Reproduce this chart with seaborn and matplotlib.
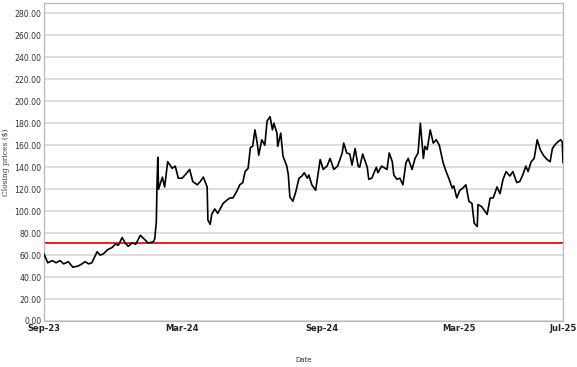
import matplotlib
matplotlib.use("Agg")
import matplotlib.pyplot as plt
import seaborn as sns
import pandas as pd
import numpy as np

start_date = "2023-09-01"
day_offsets = [0, 5, 11, 16, 21, 26, 32, 38, 45, 50, 54, 59, 63, 70, 74, 78, 84, 90, 94, 98,
               103, 107, 111, 116, 121, 127, 133, 137, 144, 146, 148, 149, 150, 151, 156, 159,
               163, 169, 173, 177, 182, 186, 192, 196, 202, 206, 210, 215, 216, 219, 221, 225,
               229, 236, 241, 245, 249, 254, 258, 262, 265, 269, 272, 275, 278, 281, 283, 287,
               291, 294, 298, 301, 303, 307, 308, 312, 315, 320, 322, 324, 328, 332, 336, 340,
               343, 347, 349, 353, 358, 364, 368, 373, 377, 382, 387, 393, 395, 399, 403, 406,
               410, 414, 416, 420, 426, 428, 432, 438, 440, 445, 452, 455, 459, 461, 465, 469,
               473, 477, 480, 485, 489, 493, 496, 500, 502, 505, 509, 513, 517, 521, 526, 530,
               534, 538, 540, 544, 548, 552, 556, 560, 564, 567, 571, 572, 577, 584, 588, 592,
               597, 601, 605, 609, 614, 618, 623, 627, 631, 635, 638, 642, 646, 650, 654, 658,
               663, 667, 670, 673, 677, 681, 683, 684]
closing_prices = [61, 53, 55, 53, 55, 52, 54, 49, 50, 52, 54, 52, 53, 63, 60, 61, 65, 67, 70, 69,
                  76, 71, 68, 71, 70, 78, 74, 71, 72, 75, 90, 125, 149, 120, 131, 122,
                  145, 139, 141, 130, 130, 133, 138, 127, 124, 127, 131, 122, 92, 88, 97, 102,
                  98, 107, 110, 112, 112, 118, 124, 126, 136, 139, 158, 159, 174, 162, 151, 165,
                  160, 182, 186, 174, 180, 171, 159, 171, 150, 141, 133, 113, 109, 118, 130, 132,
                  135, 130, 133, 124, 119, 147, 138, 141, 148, 138, 141, 153, 162, 153, 152, 142,
                  157, 141, 140, 152, 140, 129, 130, 140, 135, 141, 138, 153, 145, 133, 129, 130,
                  124, 144, 148, 138, 148, 153, 180, 148, 159, 156, 174, 162, 165, 160, 144, 136,
                  129, 121, 123, 112, 119, 121, 124, 109, 107, 89, 86, 106, 104, 97, 112, 112,
                  122, 116, 129, 136, 132, 136, 126, 127, 133, 141, 136, 145, 148, 165, 156, 151,
                  147, 145, 157, 160, 163, 165, 163, 144]
reference_level = 70.6
tick_dates = ["2023-09-01", "2024-03-01", "2024-09-01", "2025-03-01", "2025-07-16"]
tick_labels = ["Sep-23", "Mar-24", "Sep-24", "Mar-25", "Jul-25"]
y_ticks = list(range(0, 281, 20))

dates = pd.Timestamp(start_date) + pd.to_timedelta(day_offsets, unit="D")
df = pd.DataFrame({"Date": dates, "Close": closing_prices})

sns.set_style("white")
fig = plt.figure(figsize=(5.77, 3.67), dpi=100)
ax = fig.add_axes([44/577, 1-321/367, (563-44)/577, (321-3)/367])

for y in y_ticks:
    ax.axhline(y, color="#d4d4d4", lw=1.1, zorder=0)

sns.lineplot(data=df, x="Date", y="Close", ax=ax, color="black", lw=1.2, zorder=3)
ax.axhline(reference_level, color="#e8231b", lw=1.4, zorder=2)

ax.set_xlim(pd.Timestamp(tick_dates[0]), pd.Timestamp(tick_dates[-1]))
ax.set_ylim(0, 289.5)
ax.set_yticks(y_ticks)
ax.set_yticklabels([f"{v:.2f}" for v in y_ticks], fontsize=5.6, color="#333333")
ax.set_xticks([pd.Timestamp(d) for d in tick_dates])
ax.set_xticklabels(tick_labels, fontsize=6, color="#222222", fontweight="bold")
ax.tick_params(axis="y", length=0, pad=2)
ax.tick_params(axis="x", length=0, pad=2.2)
ax.grid(False)

for s in ax.spines.values():
    s.set_color("#b8b8b8")
    s.set_linewidth(0.9)

ax.set_ylabel("Closing prices ($)", fontsize=5.5, family="DejaVu Serif", color="#333333")
ax.yaxis.set_label_coords(-0.066, 0.5)
ax.set_xlabel("Date", fontsize=5, color="#333333")
ax.xaxis.set_label_coords(0.5, -0.113)

fig.savefig("out.png", dpi=100)
